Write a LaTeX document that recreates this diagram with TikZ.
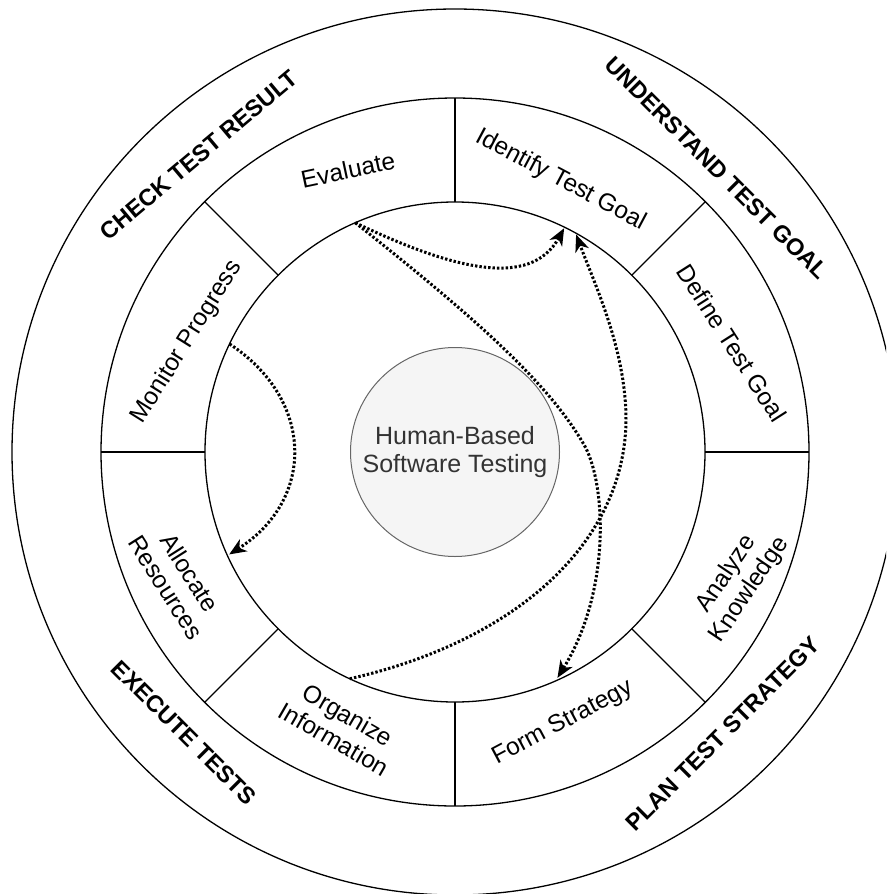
\documentclass[tikz,border=0pt]{standalone}
\usepackage{fontspec}
\setmainfont{Liberation Sans}
\usetikzlibrary{arrows.meta,calc}
\definecolor{hubfill}{HTML}{F5F5F5}
\definecolor{hubline}{HTML}{666666}
\definecolor{hubtext}{HTML}{333333}
\begin{document}
\begin{tikzpicture}[x=1pt,y=-1pt,
  ringline/.style={line width=1.3pt},
  flow/.style={line width=3pt, dash pattern=on 2.4pt off 2pt,
    -{Stealth[length=17pt,width=14pt,inset=5pt]}},
  lbl/.style={font=\fontsize{24.5}{28}\selectfont, align=center, inner sep=0pt},
  phase/.style={font=\fontsize{23.5}{27}\selectfont\bfseries, inner sep=0pt},
]
\useasboundingbox (0,0) rectangle (886,894);
\clip (0,0) rectangle (886,894);
\fill[white] (0,0) rectangle (886,894);
\coordinate (O) at (455,452);
% rings
\draw[ringline] (O) circle[radius=443pt];
\draw[ringline] (O) circle[radius=354pt];
\draw[ringline] (O) circle[radius=250pt];
\foreach \a in {0,45,...,315}
  \draw[ringline] ($(O)+(\a:250pt)$) -- ($(O)+(\a:354pt)$);
% hub
\node[circle, draw=hubline, fill=hubfill, line width=1pt, minimum size=209pt,
      text=hubtext, font=\fontsize{25}{28}\selectfont, align=center, inner sep=0pt]
  (hub) at (O) {Human-Based\\Software Testing};
% ring labels
\node[lbl, rotate=12]    (ev) at (348,170) {Evaluate};
\node[lbl, rotate=-28]   (id) at (561,180) {Identify Test Goal};
\node[lbl, rotate=-57.5] (df) at (732,343) {Define Test Goal};
\node[lbl, rotate=56]    (an) at (738,582) {Analyze\\Knowledge};
\node[lbl, rotate=28]    (fs) at (563,723) {Form Strategy};
\node[lbl, rotate=-30]   (oi) at (341,727) {Organize\\Information};
\node[lbl, rotate=-57.6] (ar) at (178,580) {Allocate\\Resources};
\node[lbl, rotate=58]    (mp) at (187,342) {Monitor Progress};
% phase labels
\node[phase, rotate=40]  (ph1) at (199,155) {CHECK TEST RESULT};
\node[phase, rotate=-45] (ph2) at (717,168) {UNDERSTAND TEST GOAL};
\node[phase, rotate=-45] (ph3) at (184,733) {EXECUTE TESTS};
\node[phase, rotate=45]  (ph4) at (723,734) {PLAN TEST STRATEGY};
% connector end points on the inner circle
\coordinate (s1)     at ($(O)+(113.5:250pt)$);
\coordinate (aend)   at ($(O)+(64:249pt)$);
\coordinate (cend)   at ($(O)+(60.9:249pt)$);
\coordinate (bend)   at ($(O)+(-65.6:248pt)$);
\coordinate (cstart) at ($(O)+(245.1:250pt)$);
\coordinate (dstart) at ($(O)+(154.4:250pt)$);
\coordinate (dend)   at ($(O)+(204.4:248pt)$);
\coordinate (bmid)   at (583,443);
\coordinate (cmid)   at (626,420);
% connectors
\draw[flow] (s1) .. controls (450,268) and (530,290) .. (aend);
\draw[flow] (s1) .. controls (465,310) and (545,378) .. (bmid)
               .. controls (606,480) and (612,590) .. (bend);
\draw[flow] (cstart) .. controls (520,640) and (625,540) .. (cmid)
               .. controls (626,350) and (595,285) .. (cend);
\draw[flow] (dstart) .. controls (315,400) and (315,500) .. (dend);
\end{tikzpicture}
\end{document}
